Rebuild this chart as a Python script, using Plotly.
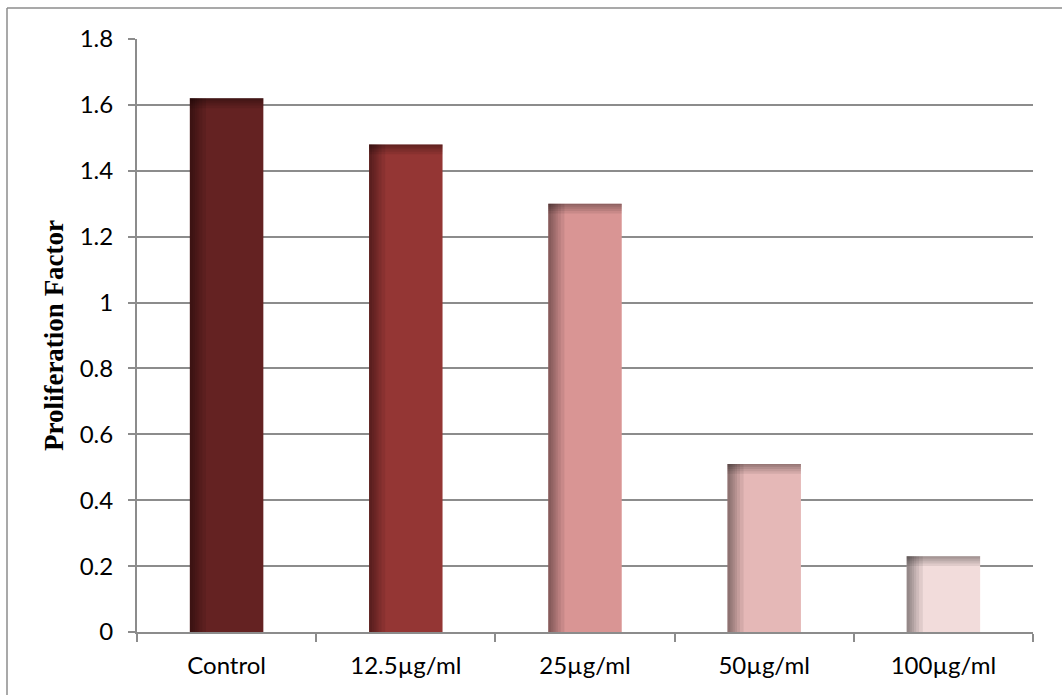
import plotly.graph_objects as go

# Proliferation factor by treatment concentration
categories = ["Control", "12.5µg/ml", "25µg/ml", "50µg/ml", "100µg/ml"]
proliferation = [1.62, 1.48, 1.30, 0.51, 0.23]
bar_colors = ["#642222", "#943634", "#d99594", "#e5b8b7", "#f2dcdb"]
y_ticks = [0, 0.2, 0.4, 0.6, 0.8, 1, 1.2, 1.4, 1.6, 1.8]
y_tick_text = ["0", "0.2", "0.4", "0.6", "0.8", "1", "1.2", "1.4", "1.6", "1.8"]

BAR_W = 0.41
GRID = "#8c8c8c"

fig = go.Figure()

# main bars
fig.add_trace(go.Bar(
    x=categories, y=proliferation, width=BAR_W,
    marker=dict(color=bar_colors, line=dict(width=0)),
    hoverinfo="x+y", showlegend=False,
))

# soft inner shading along the left edge of each bar (stacked translucent strips)
for frac in [0.22, 0.17, 0.13, 0.10, 0.07, 0.04]:
    fig.add_trace(go.Bar(
        x=categories, y=proliferation, width=BAR_W * frac, offset=-BAR_W / 2,
        marker=dict(color="rgba(0,0,0,0.075)", line=dict(width=0)),
        hoverinfo="skip", showlegend=False,
    ))

# soft inner shading along the top edge of each bar
for depth in [0.030, 0.022, 0.015, 0.009, 0.004]:
    fig.add_trace(go.Bar(
        x=categories, y=[depth] * len(categories),
        base=[v - depth for v in proliferation],
        width=BAR_W, offset=-BAR_W / 2,
        marker=dict(color="rgba(0,0,0,0.08)", line=dict(width=0)),
        hoverinfo="skip", showlegend=False,
    ))

fig.update_layout(
    width=1062, height=695,
    margin=dict(l=137, r=29, t=39, b=63),
    paper_bgcolor="white", plot_bgcolor="white",
    barmode="overlay", bargap=0.59,
    font=dict(family="Lato, Carlito, Liberation Sans, sans-serif", size=24, color="#000000"),
    xaxis=dict(
        type="category",
        showline=True, linecolor=GRID, linewidth=2,
        ticks="outside", tickson="boundaries", ticklen=8, tickcolor=GRID, tickwidth=2,
        showgrid=False, ticklabelstandoff=11,
    ),
    yaxis=dict(
        range=[0, 1.8], tickvals=y_ticks, ticktext=y_tick_text,
        showline=True, linecolor=GRID, linewidth=2,
        ticks="outside", ticklen=7, tickcolor=GRID, tickwidth=2,
        showgrid=True, gridcolor=GRID, gridwidth=1.5,
        zeroline=False, ticklabelstandoff=10,
        title=dict(text="<b>Proliferation Factor</b>",
                   font=dict(family="Liberation Serif, Times New Roman, serif", size=27),
                   standoff=8),
    ),
    shapes=[
        # outer chart frame (top and left edges)
        dict(type="line", xref="paper", yref="paper",
             x0=-130 / 896, x1=1.2, y0=1 + 31 / 593, y1=1 + 31 / 593,
             line=dict(color="#8c8c8c", width=1.5)),
        dict(type="line", xref="paper", yref="paper",
             x0=-130 / 896, x1=-130 / 896, y0=-0.2, y1=1 + 31 / 593,
             line=dict(color="#8c8c8c", width=1.5)),
    ],
)

fig.write_html("out.html")
